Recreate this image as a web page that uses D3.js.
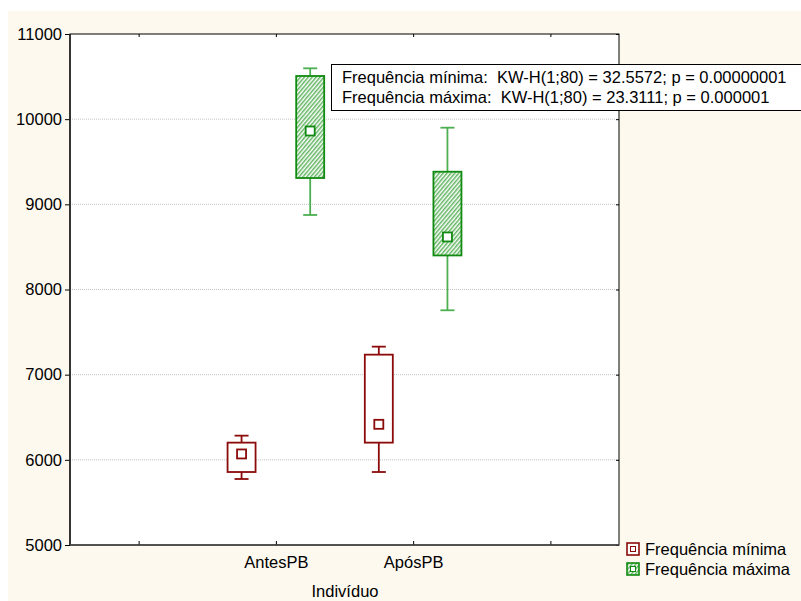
<!DOCTYPE html>
<html>
<head>
<meta charset="utf-8">
<script src="https://cdn.jsdelivr.net/npm/d3@7"></script>
<style>
  html, body { margin: 0; padding: 0; background: #ffffff; }
  svg { display: block; font-family: Arial, "Liberation Sans", sans-serif; }
  text { white-space: pre; }
</style>
</head>
<body>
<svg id="chart" width="801" height="601"></svg>
<script>
// Categories on the x axis
const categories = ["AntesPB", "ApósPB"];
// Box statistics per series, one entry per category: [whiskerLow, q1, median, q3, whiskerHigh]
const minFreq = [
  [5775, 5857, 6069, 6202, 6284],
  [5857, 6202, 6417, 7235, 7329]
];
const maxFreq = [
  [8875, 9309, 9861, 10507, 10597],
  [7756, 8400, 8617, 9383, 9900]
];
const seriesNames = ["Frequência mínima", "Frequência máxima"];
const yTicks = [5000, 6000, 7000, 8000, 9000, 10000, 11000];
const statLines = [
  "Frequência mínima:  KW-H(1;80) = 32.5572; p = 0.00000001",
  "Frequência máxima:  KW-H(1;80) = 23.3111; p = 0.000001"
];
const xTitle = "Indivíduo";

const FS = 16.5;
const svg = d3.select("#chart");
const L = 70, R = 619, T = 34, B = 545;

// page background
svg.append("rect").attr("x", 8).attr("y", 11).attr("width", 793).attr("height", 590).attr("fill", "#fdf9ef");

const defs = svg.append("defs");
const pat = defs.append("pattern").attr("id", "hatch").attr("patternUnits", "userSpaceOnUse")
  .attr("width", 3).attr("height", 3).attr("patternTransform", "rotate(40)");
pat.append("rect").attr("width", 3).attr("height", 3).attr("fill", "#ffffff");
pat.append("line").attr("x1", 0.75).attr("y1", 0).attr("x2", 0.75).attr("y2", 3)
  .attr("stroke", "#58b058").attr("stroke-width", 1.4);

const y = d3.scaleLinear().domain([5000, 11000]).range([B, T]);
const x = d3.scaleLinear().domain([0, 4]).range([L, R]);

// plot area
svg.append("rect").attr("x", L).attr("y", T).attr("width", R - L).attr("height", B - T).attr("fill", "#ffffff");

// grid
svg.append("g").selectAll("line").data(yTicks.filter(v => v > 5000 && v < 11000)).join("line")
  .attr("x1", L).attr("x2", R).attr("y1", d => y(d)).attr("y2", d => y(d))
  .attr("stroke", "#c4c4c4").attr("stroke-width", 1).attr("stroke-dasharray", "1,1");

// axes
const yAxis = svg.append("g").attr("transform", `translate(${L},0)`)
  .call(d3.axisLeft(y).tickValues(yTicks).tickFormat(d3.format("d")).tickSize(5).tickPadding(3));
yAxis.select(".domain").remove();
yAxis.selectAll("text").attr("font-size", FS).attr("fill", "#000");

const yAxisR = svg.append("g").attr("transform", `translate(${R},0)`)
  .call(d3.axisLeft(y).tickValues(yTicks).tickFormat("").tickSize(3));
yAxisR.select(".domain").remove();

const xTickVals = [0.5, 1.5, 2.5, 3.5];
const xAxis = svg.append("g").attr("transform", `translate(0,${B})`)
  .call(d3.axisBottom(x).tickValues(xTickVals).tickSize(-4).tickPadding(11)
    .tickFormat(d => { const i = Math.round(d - 0.5) - 1; return categories[i] !== undefined ? categories[i] : ""; }));
xAxis.select(".domain").remove();
xAxis.selectAll("text").attr("font-size", FS).attr("fill", "#000").attr("dy", "0.71em");

const xAxisT = svg.append("g").attr("transform", `translate(0,${T})`)
  .call(d3.axisTop(x).tickValues(xTickVals).tickFormat("").tickSize(-3));
xAxisT.select(".domain").remove();

// frame
svg.append("rect").attr("x", L).attr("y", T).attr("width", R - L).attr("height", B - T)
  .attr("fill", "none").attr("stroke", "#000").attr("stroke-width", 1);
svg.append("line").attr("x1", L).attr("x2", L).attr("y1", T).attr("y2", B).attr("stroke", "#222").attr("stroke-width", 1.6);
svg.append("line").attr("x1", L).attr("x2", R).attr("y1", B).attr("y2", B).attr("stroke", "#444").attr("stroke-width", 1.6);

svg.append("text").attr("x", 345).attr("y", 597).attr("text-anchor", "middle")
  .attr("font-size", FS).text(xTitle);

// boxes
const series = [
  { data: minFreq, offset: -0.25, stroke: "#8b0a0a", whisker: "#8b0a0a", fill: "#ffffff" },
  { data: maxFreq, offset: 0.25, stroke: "#108a10", whisker: "#4caf50", fill: "url(#hatch)" }
];
const boxW = 28, capW = 14, medS = 9;
series.forEach(s => {
  const g = svg.append("g");
  s.data.forEach((d, i) => {
    const cx = x(i + 1.5 + s.offset);
    const [lo, q1, med, q3, hi] = d;
    g.append("line").attr("x1", cx).attr("x2", cx).attr("y1", y(hi)).attr("y2", y(q3)).attr("stroke", s.whisker).attr("stroke-width", 1.8);
    g.append("line").attr("x1", cx).attr("x2", cx).attr("y1", y(q1)).attr("y2", y(lo)).attr("stroke", s.whisker).attr("stroke-width", 1.8);
    g.append("line").attr("x1", cx - capW / 2).attr("x2", cx + capW / 2).attr("y1", y(hi)).attr("y2", y(hi)).attr("stroke", s.whisker).attr("stroke-width", 1.8);
    g.append("line").attr("x1", cx - capW / 2).attr("x2", cx + capW / 2).attr("y1", y(lo)).attr("y2", y(lo)).attr("stroke", s.whisker).attr("stroke-width", 1.8);
    g.append("rect").attr("x", cx - boxW / 2).attr("y", y(q3)).attr("width", boxW).attr("height", y(q1) - y(q3))
      .attr("fill", s.fill).attr("stroke", s.stroke).attr("stroke-width", 1.8);
    g.append("rect").attr("x", cx - medS / 2).attr("y", y(med) - medS / 2).attr("width", medS).attr("height", medS)
      .attr("fill", "#ffffff").attr("stroke", s.stroke).attr("stroke-width", 1.8);
  });
});

// statistics box
const sb = svg.append("g");
sb.append("rect").attr("x", 331.5).attr("y", 64.5).attr("width", 480).attr("height", 46)
  .attr("fill", "#ffffff").attr("stroke", "#000").attr("stroke-width", 1);
statLines.forEach((t, i) => {
  sb.append("text").attr("x", 342).attr("y", 83 + i * 20).attr("font-size", FS).attr("fill", "#000").text(t);
});

// legend
const lg = svg.append("g");
series.forEach((s, i) => {
  const yy = 549 + i * 20;
  lg.append("rect").attr("x", 627).attr("y", yy - 6).attr("width", 12).attr("height", 12)
    .attr("fill", s.fill).attr("stroke", s.stroke).attr("stroke-width", 1.6);
  lg.append("rect").attr("x", 630.5).attr("y", yy - 2.5).attr("width", 5).attr("height", 5)
    .attr("fill", "#ffffff").attr("stroke", s.stroke).attr("stroke-width", 1);
  lg.append("text").attr("x", 645).attr("y", yy + 6).attr("font-size", FS).attr("fill", "#000").text(seriesNames[i]);
});
</script>
</body>
</html>
